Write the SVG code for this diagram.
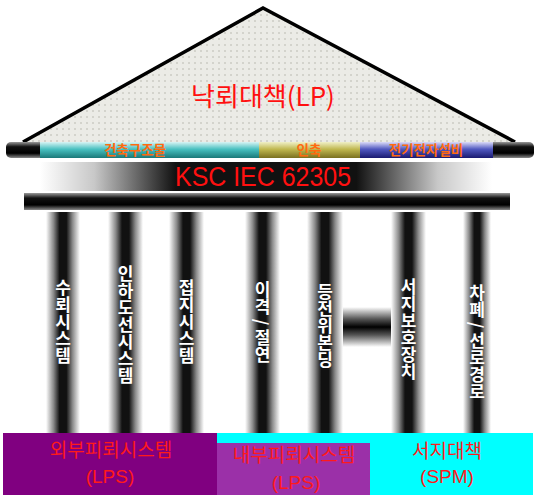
<svg xmlns="http://www.w3.org/2000/svg" width="534" height="495" viewBox="0 0 534 495">
<defs>
  <pattern id="dots" width="6" height="6" patternUnits="userSpaceOnUse">
    <rect width="6" height="6" fill="#ebebe6"/>
    <circle cx="3" cy="3" r="0.7" fill="#a8a8a0"/>
  </pattern>
  <linearGradient id="colG" x1="0" y1="0" x2="1" y2="0">
    <stop offset="0" stop-color="#ffffff"/>
    <stop offset="0.22" stop-color="#8a8a8a"/>
    <stop offset="0.4" stop-color="#111"/>
    <stop offset="0.6" stop-color="#111"/>
    <stop offset="0.78" stop-color="#8a8a8a"/>
    <stop offset="1" stop-color="#ffffff"/>
  </linearGradient>
  <linearGradient id="barV" x1="0" y1="0" x2="0" y2="1">
    <stop offset="0" stop-color="#9a9a9a"/>
    <stop offset="0.3" stop-color="#111"/>
    <stop offset="0.7" stop-color="#000"/>
    <stop offset="1" stop-color="#8a8a8a"/>
  </linearGradient>
  <linearGradient id="linkV" x1="0" y1="0" x2="0" y2="1">
    <stop offset="0" stop-color="#ffffff"/>
    <stop offset="0.3" stop-color="#555"/>
    <stop offset="0.5" stop-color="#000"/>
    <stop offset="0.7" stop-color="#555"/>
    <stop offset="1" stop-color="#ffffff"/>
  </linearGradient>
  <linearGradient id="bandH" x1="0" y1="0" x2="1" y2="0">
    <stop offset="0" stop-color="#ffffff"/>
    <stop offset="0.12" stop-color="#c8c8c8"/>
    <stop offset="0.3" stop-color="#111"/>
    <stop offset="0.7" stop-color="#111"/>
    <stop offset="0.88" stop-color="#c8c8c8"/>
    <stop offset="1" stop-color="#ffffff"/>
  </linearGradient>
  <linearGradient id="teal" x1="0" y1="0" x2="0" y2="1">
    <stop offset="0" stop-color="#d8f4f4"/>
    <stop offset="0.45" stop-color="#48c0c0"/>
    <stop offset="1" stop-color="#1a7878"/>
  </linearGradient>
  <linearGradient id="khaki" x1="0" y1="0" x2="0" y2="1">
    <stop offset="0" stop-color="#f0f0c8"/>
    <stop offset="0.45" stop-color="#c0b850"/>
    <stop offset="1" stop-color="#7a7020"/>
  </linearGradient>
  <linearGradient id="blue" x1="0" y1="0" x2="0" y2="1">
    <stop offset="0" stop-color="#dcdcf8"/>
    <stop offset="0.45" stop-color="#5058c0"/>
    <stop offset="1" stop-color="#1a1a70"/>
  </linearGradient>
</defs>
<style>
  .col { fill: url(#colG); }
  .vt { font-family: "Noto Sans CJK KR", "Noto Sans", sans-serif; font-size: 17px; font-weight: bold; fill: #ffffff; writing-mode: vertical-rl; text-anchor: middle; }
  .beamT { font-family: "Noto Sans CJK KR", sans-serif; font-size: 13.5px; font-weight: bold; fill: #ff6a10; text-anchor: middle; }
  .boxT { font-family: "Noto Sans CJK KR", "Liberation Sans", sans-serif; font-size: 19px; fill: #ff1a1a; text-anchor: middle; }
  .boxL { font-family: "Liberation Sans", "Noto Sans", sans-serif; font-size: 19px; fill: #ff1a1a; text-anchor: middle; }
</style>

<g id="roof">
  <path d="M23 142 L263 8 L515 142 Z" fill="url(#dots)"/>
  <path d="M23 142 L263 8 L515 142" fill="none" stroke="#000" stroke-width="3.5" stroke-linejoin="miter"/>
  <text x="263" y="106" font-family="Noto Sans CJK KR, sans-serif" font-size="26" fill="#ff1010" text-anchor="middle">낙뢰대책(LP)</text>
</g>

<g id="beam-top">
  <rect x="6" y="142" width="528" height="16" rx="5" fill="url(#barV)"/>
  <rect x="40" y="142" width="219" height="16" fill="url(#teal)"/>
  <rect x="259" y="142" width="101" height="16" fill="url(#khaki)"/>
  <rect x="360" y="142" width="133" height="16" fill="url(#blue)"/>
  <text class="beamT" x="135" y="155">건축구조물</text>
  <text class="beamT" x="309" y="155">인축</text>
  <text class="beamT" x="426" y="155">전기전자설비</text>
</g>

<g id="standard">
  <rect x="40" y="162" width="452" height="29" fill="url(#bandH)"/>
  <text x="263" y="186" font-family="Liberation Sans, sans-serif" font-size="27" fill="#ff1010" text-anchor="middle" textLength="176" lengthAdjust="spacingAndGlyphs">KSC IEC 62305</text>
</g>

<g id="beam-lower">
  <rect x="24" y="193" width="486" height="17" fill="url(#barV)"/>
</g>

<g id="connectors">
  <rect x="342" y="307" width="50" height="40" fill="url(#linkV)"/>
</g>

<g id="col1"><rect class="col" x="46" y="212" width="34" height="221"/><text class="vt" x="63" y="322">수뢰시스템</text></g>
<g id="col2"><rect class="col" x="108" y="212" width="35" height="221"/><text class="vt" x="125.5" y="325">인하도선시스템</text></g>
<g id="col3"><rect class="col" x="169" y="212" width="35" height="221"/><text class="vt" x="186.5" y="322">접지시스템</text></g>
<g id="col4"><rect class="col" x="245" y="212" width="35" height="221"/><text class="vt" x="262.5" y="322">이격 / 절연</text></g>
<g id="col5"><rect class="col" x="307" y="212" width="36" height="221"/><text class="vt" x="325" y="326">등전위본딩</text></g>
<g id="col6"><rect class="col" x="391" y="212" width="35" height="221"/><text class="vt" x="408.5" y="329">서지보호장치</text></g>
<g id="col7"><rect class="col" x="463" y="212" width="28" height="221"/><text class="vt" x="477" y="342">차폐 / 선로경로</text></g>

<g id="box-external">
  <rect x="3" y="433" width="214" height="62" fill="#800080"/>
  <text class="boxT" x="111" y="457">외부피뢰시스템</text>
  <text class="boxL" x="110" y="483">(LPS)</text>
</g>
<g id="box-spm">
  <rect x="217" y="433" width="316" height="62" fill="#00ffff"/>
  <text class="boxT" x="447" y="458">서지대책</text>
  <text class="boxL" x="447" y="483">(SPM)</text>
</g>
<g id="box-internal">
  <rect x="217" y="443" width="153" height="52" fill="#9b30a8"/>
  <text class="boxT" x="294" y="462">내부피뢰시스템</text>
  <text class="boxL" x="296" y="489">(LPS)</text>
</g>
</svg>
